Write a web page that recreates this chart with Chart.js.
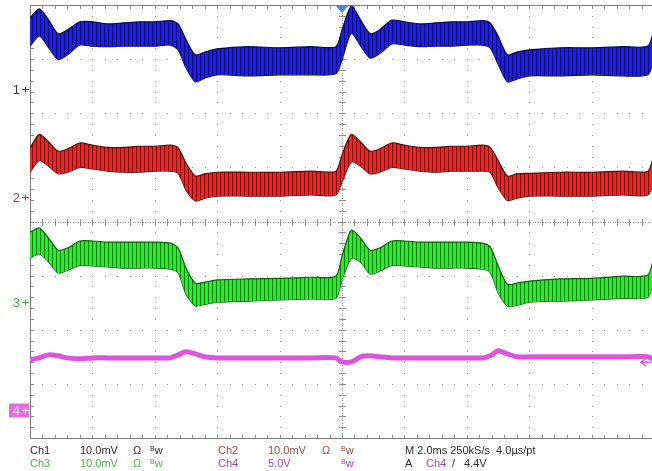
<!DOCTYPE html>
<html>
<head>
<meta charset="utf-8">
<script src="https://cdn.jsdelivr.net/npm/chart.js@4/dist/chart.umd.min.js"></script>
<style>
  html, body { margin: 0; padding: 0; background: #fff; overflow: hidden; width: 652px; height: 471px; }
  #wrap { position: relative; width: 652px; height: 471px; overflow: hidden; }
  #scope { position: absolute; left: 0; top: 0; }
  .ro { position: absolute; font-family: "Liberation Sans", Arial, sans-serif; font-size: 11px; line-height: 12px; white-space: nowrap; }
  .b { font-size: 7px; position: relative; top: -3px; }
  .k { color: #2a2a2a; }
  .r { color: #9a4a4a; }
  .g { color: #4cb04c; }
  .m { color: #a048a0; }
</style>
</head>
<body>
<div id="wrap">
  <canvas id="scope" width="660" height="471"></canvas>

  <span class="ro k" style="left:30px;top:444px">Ch1</span>
  <span class="ro k" style="left:80px;top:444px">10.0mV</span>
  <span class="ro k" style="left:133px;top:444px">Ω</span>
  <span class="ro k" style="left:150px;top:444px"><span class="b">B</span>w</span>
  <span class="ro r" style="left:218px;top:444px">Ch2</span>
  <span class="ro r" style="left:268px;top:444px">10.0mV</span>
  <span class="ro r" style="left:322px;top:444px">Ω</span>
  <span class="ro r" style="left:341px;top:444px"><span class="b">B</span>w</span>
  <span class="ro k" style="left:405px;top:444px">M 2.0ms 250kS/s&nbsp; 4.0µs/pt</span>

  <span class="ro g" style="left:30px;top:457px">Ch3</span>
  <span class="ro g" style="left:80px;top:457px">10.0mV</span>
  <span class="ro g" style="left:133px;top:457px">Ω</span>
  <span class="ro g" style="left:150px;top:457px"><span class="b">B</span>w</span>
  <span class="ro m" style="left:218px;top:457px">Ch4</span>
  <span class="ro m" style="left:268px;top:457px">5.0V</span>
  <span class="ro m" style="left:341px;top:457px"><span class="b">B</span>w</span>
  <span class="ro k" style="left:405px;top:457px">A</span>
  <span class="ro m" style="left:426px;top:457px">Ch4</span>
  <span class="ro k" style="left:452px;top:457px">/</span>
  <span class="ro k" style="left:464px;top:457px">4.4V</span>
</div>

<script>
// Sample times (ms) across the 10-division, 2 ms/div record
const timeMs = [0, 0.3, 0.6, 0.9, 1.2, 1.6, 2.0, 2.5, 3.0, 3.5, 4.0, 4.5,
  4.75, 5.0, 5.3, 5.6, 6.0, 7.0, 8.0, 9.0, 9.8,
  10.0, 10.3, 10.6, 10.9, 11.2, 11.6, 12.0, 12.5, 13.0, 13.5, 14.0, 14.5,
  14.75, 15.0, 15.3, 15.6, 16.0, 17.0, 18.0, 19.0, 19.8, 20.0];

// Ch1 ripple envelope (mV, relative to channel ground)
const ch1Upper = [13.1, 14.8, 12.7, 10.2, 10.9, 12.4, 12.4, 12.0, 12.2, 12.4, 12.4, 12.6,
  12.0, 9.1, 6.3, 6.8, 7.4, 7.8, 7.6, 7.8, 7.8,
  10.9, 15.3, 12.7, 10.2, 10.9, 12.7, 12.4, 12.0, 12.2, 12.4, 12.4, 12.6,
  12.2, 9.8, 6.3, 6.8, 7.2, 7.6, 7.6, 7.8, 7.9, 10.9];
const ch1Lower = [7.9, 9.8, 7.6, 5.4, 6.3, 8.1, 7.9, 7.8, 7.9, 7.9, 7.9, 8.1,
  7.2, 3.9, 1.3, 2.0, 2.6, 2.4, 2.6, 2.6, 2.8,
  5.4, 10.3, 7.9, 5.7, 6.5, 8.3, 8.1, 7.8, 7.9, 7.9, 8.1, 8.1,
  7.6, 4.6, 1.3, 1.8, 2.4, 2.4, 2.6, 2.4, 2.6, 5.4];

// Ch2 ripple envelope (mV)
const ch2Upper = [9.1, 11.6, 10.2, 8.5, 8.9, 10.0, 9.6, 9.2, 9.2, 9.4, 9.4, 9.6,
  9.1, 6.3, 3.9, 4.3, 4.6, 4.6, 4.6, 4.8, 4.8,
  7.8, 11.6, 10.2, 8.5, 8.9, 10.0, 9.6, 9.2, 9.2, 9.4, 9.4, 9.6,
  9.2, 6.8, 3.9, 4.3, 4.4, 4.6, 4.6, 4.8, 4.8, 7.8];
const ch2Lower = [4.6, 6.8, 5.7, 4.3, 4.6, 5.5, 5.2, 4.8, 4.6, 4.6, 4.8, 4.8,
  4.4, 1.3, -0.7, -0.2, 0.2, 0.2, 0.2, 0.4, 0.4,
  2.8, 6.5, 5.7, 4.3, 4.6, 5.5, 5.2, 4.8, 4.6, 4.8, 4.8, 4.8,
  4.6, 1.8, -0.6, -0.2, 0.2, 0.2, 0.2, 0.4, 0.4, 2.8];

// Ch3 ripple envelope (mV)
const ch3Upper = [12.9, 13.7, 11.8, 9.6, 10.0, 11.3, 11.3, 11.1, 11.1, 11.1, 11.1, 10.9,
  10.0, 6.3, 3.5, 3.7, 4.1, 4.3, 4.4, 4.6, 4.8,
  8.5, 13.3, 11.8, 9.6, 10.0, 11.3, 11.3, 11.1, 11.1, 11.1, 11.1, 10.9,
  10.2, 6.8, 3.3, 3.5, 3.9, 4.3, 4.4, 4.8, 5.0, 8.5];
const ch3Lower = [8.1, 8.9, 7.4, 5.4, 5.9, 6.8, 6.7, 6.5, 6.3, 6.3, 6.3, 6.1,
  5.4, 1.5, -0.7, -0.4, 0.0, 0.2, 0.4, 0.6, 0.7,
  4.1, 8.1, 7.4, 5.2, 5.7, 6.8, 6.7, 6.5, 6.3, 6.3, 6.3, 6.1,
  5.5, 1.8, -0.7, -0.6, 0.0, 0.2, 0.4, 0.7, 0.9, 4.1];

// Ch4 level (V)
const ch4Level = [4.62, 4.80, 5.08, 4.99, 4.80, 4.71, 4.80, 4.80, 4.80, 4.80, 4.80, 4.80,
  5.08, 5.36, 5.17, 4.90, 4.80, 4.80, 4.80, 4.80, 4.80,
  4.43, 4.43, 4.90, 4.99, 4.90, 4.80, 4.80, 4.80, 4.80, 4.80, 4.80, 4.80,
  4.99, 5.45, 5.17, 4.90, 4.90, 4.90, 4.90, 4.90, 4.90, 4.62];

// Vertical settings per channel
const voltsPerDiv = [10, 10, 10, 5];          // mV/div for Ch1-3, V/div for Ch4
const groundDiv   = [2.45, 0.45, -1.49, -3.48]; // ground marker position, divisions from centre
const triggerTimeMs = 10;
const triggerLevelV = 4.4;

const canvas = document.getElementById('scope');
const ctx2d = canvas.getContext('2d');

function stripePattern(base, dark) {
  const p = document.createElement('canvas');
  p.width = 4; p.height = 1;
  const g = p.getContext('2d');
  g.fillStyle = base; g.fillRect(0, 0, 4, 1);
  g.fillStyle = dark; g.fillRect(0, 0, 1, 1);
  return ctx2d.createPattern(p, 'repeat');
}

function toPoints(values, ch) {
  return values.map((v, i) => ({ x: timeMs[i], y: groundDiv[ch] + v / voltsPerDiv[ch] }));
}

function band(upper, lower, ch, base, dark, edge) {
  return [
    { data: toPoints(upper, ch), borderColor: edge, borderWidth: 1.2, backgroundColor: stripePattern(base, dark),
      fill: '+1', pointRadius: 0, tension: 0.25 },
    { data: toPoints(lower, ch), borderColor: edge, borderWidth: 1.2, fill: false, pointRadius: 0, tension: 0.25 }
  ];
}

const datasets = [
  ...band(ch1Upper, ch1Lower, 0, '#1c1cf0', '#0c0c70', '#0a0a50'),
  ...band(ch2Upper, ch2Lower, 1, '#f22222', '#780c0c', '#5a0a0a'),
  ...band(ch3Upper, ch3Lower, 2, '#26ee26', '#128012', '#0c600c'),
  { data: toPoints(ch4Level, 3), borderColor: '#dc55dc', borderWidth: 5, fill: false, pointRadius: 0, tension: 0.25 }
];

// Tek-style dotted graticule
const graticule = {
  id: 'graticule',
  beforeDatasetsDraw(chart) {
    const { ctx, chartArea: a, scales: { x, y } } = chart;
    const xs = []; for (let t = 0; t <= 20; t += 2) xs.push(x.getPixelForValue(t));
    const ys = []; for (let v = 4; v >= -4; v--) ys.push(y.getPixelForValue(v));
    const dx = (xs[1] - xs[0]) / 5, dy = (ys[1] - ys[0]) / 5;
    const cx = x.getPixelForValue(10), cy = y.getPixelForValue(0);
    ctx.save();
    ctx.fillStyle = '#8e8e8e';
    // vertical grid lines
    for (let i = 1; i < xs.length - 1; i++) {
      if (i === 5) continue;
      for (let k = 0; k <= 40; k++) ctx.fillRect(Math.round(xs[i]), Math.round(a.top + k * dy), 1, 1);
    }
    // horizontal grid lines
    for (let j = 1; j < ys.length - 1; j++) {
      if (j === 4) continue;
      for (let k = 0; k <= 50; k++) ctx.fillRect(Math.round(a.left + k * dx), Math.round(ys[j]), 1, 1);
    }
    // centre axes: fine dotted with minor ticks
    for (let p = a.top; p <= a.bottom; p += 2.5) ctx.fillRect(Math.round(cx), Math.round(p), 1, 1);
    for (let p = a.left; p <= a.right; p += 2.5) ctx.fillRect(Math.round(p), Math.round(cy), 1, 1);
    for (let k = 0; k <= 40; k++) ctx.fillRect(Math.round(cx) - 3, Math.round(a.top + k * dy), 7, 1);
    for (let k = 0; k <= 50; k++) ctx.fillRect(Math.round(a.left + k * dx), Math.round(cy) - 3, 1, 7);
    // frame with edge ticks
    ctx.fillStyle = '#7a7a7a';
    ctx.fillRect(Math.round(a.left), Math.round(a.top), 1, Math.round(a.bottom - a.top) + 1);
    ctx.fillRect(Math.round(a.left), Math.round(a.top), Math.round(a.right - a.left), 1);
    ctx.fillRect(Math.round(a.left), Math.round(a.bottom), Math.round(a.right - a.left), 1);
    ctx.fillStyle = '#8e8e8e';
    for (let k = 0; k <= 40; k++) ctx.fillRect(Math.round(a.left) + 1, Math.round(a.top + k * dy), 3, 1);
    for (let k = 0; k <= 50; k++) {
      ctx.fillRect(Math.round(a.left + k * dx), Math.round(a.bottom) - 3, 1, 3);
      ctx.fillRect(Math.round(a.left + k * dx), Math.round(a.top) + 1, 1, 3);
    }
    ctx.restore();
  },
  afterDatasetsDraw(chart) {
    const { ctx, chartArea: a, scales: { x, y } } = chart;
    ctx.save();
    // trigger position marker
    const tx = x.getPixelForValue(triggerTimeMs);
    ctx.fillStyle = '#4a86d4';
    ctx.beginPath();
    ctx.moveTo(tx - 7, a.top); ctx.lineTo(tx + 7, a.top); ctx.lineTo(tx, a.top + 8); ctx.closePath();
    ctx.fill();
    // trigger level marker for Ch4
    const ty = y.getPixelForValue(groundDiv[3] + triggerLevelV / voltsPerDiv[3]);
    ctx.strokeStyle = '#d45cd4'; ctx.lineWidth = 1.5;
    ctx.beginPath();
    ctx.moveTo(651, ty); ctx.lineTo(641, ty);
    ctx.moveTo(646, ty - 4); ctx.lineTo(641, ty); ctx.lineTo(646, ty + 4);
    ctx.stroke();
    // channel ground markers
    const labels = [
      { t: '1', c: '#3a3a3a' }, { t: '2', c: '#9a4a4a' }, { t: '3', c: '#4cb04c' }, { t: '4', c: '#ffffff' }
    ];
    ctx.font = '13px "Liberation Sans", Arial, sans-serif';
    ctx.textBaseline = 'middle';
    labels.forEach((l, ch) => {
      const gy = Math.round(y.getPixelForValue(groundDiv[ch])) + 0.5;
      let col = l.c;
      if (ch === 3) {
        ctx.fillStyle = '#e070e0';
        ctx.fillRect(9, gy - 7, 20, 14);
        col = '#f6d0f6';
      }
      ctx.fillStyle = col;
      ctx.textAlign = 'right';
      ctx.fillText(l.t, 20, gy + 1);
      ctx.strokeStyle = ch === 3 ? '#ffffff' : col; ctx.lineWidth = 1;
      ctx.beginPath();
      ctx.moveTo(22, gy); ctx.lineTo(29, gy);
      ctx.moveTo(25.5, gy - 3); ctx.lineTo(25.5, gy + 3);
      ctx.stroke();
    });
    ctx.restore();
  }
};

new Chart(canvas, {
  type: 'line',
  data: { datasets },
  options: {
    responsive: false,
    animation: false,
    events: [],
    layout: { padding: { left: 30, top: 5, right: 6, bottom: 33 } },
    scales: {
      x: { type: 'linear', min: 0, max: 20, display: false },
      y: { type: 'linear', min: -4, max: 4, display: false }
    },
    plugins: { legend: { display: false }, tooltip: { enabled: false } }
  },
  plugins: [graticule]
});
</script>
</body>
</html>
